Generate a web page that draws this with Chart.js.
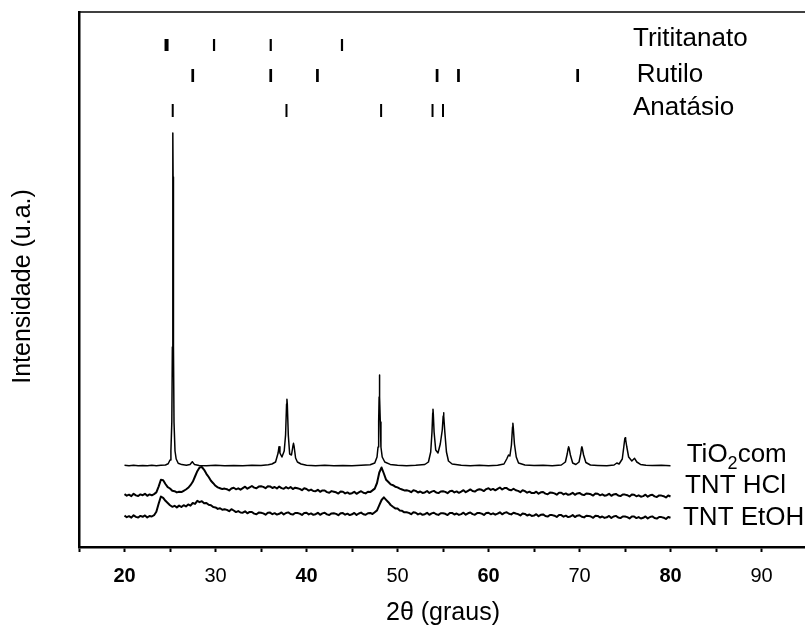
<!DOCTYPE html>
<html>
<head>
<meta charset="utf-8">
<script src="https://cdn.jsdelivr.net/npm/chart.js@4.4.1/dist/chart.umd.min.js"></script>
<style>
  html, body { margin: 0; padding: 0; background: #fff; overflow: hidden; }
  #wrap { width: 819px; height: 629px; }
</style>
</head>
<body>
<div id="wrap"><canvas id="difrat"></canvas></div>
<script>
// passo do difratometro (2theta)
const passoInicio = 20
const passo = 0.25

// TNT HCl, um valor a cada 0.25 grau, de 20 a 80
const tntHcl = [
  529, 513, 523, 509,  // 20
  532, 516, 510, 526,  // 21
  518, 532, 512, 526,  // 22
  517, 529, 546, 604,  // 23
  672, 668, 630, 598,  // 24
  585, 562, 558, 546,  // 25
  553, 549, 562, 575,  // 26
  592, 618, 652, 705,  // 27
  758, 795, 800, 772,  // 28
  732, 700, 662, 638,  // 29
  612, 596, 588, 579,  // 30
  584, 578, 565, 585,  // 31
  593, 577, 587, 573,  // 32
  589, 603, 583, 597,  // 33
  610, 594, 588, 604,  // 34
  607, 601, 588, 608,  // 35
  606, 590, 600, 586,  // 36
  605, 589, 583, 599,  // 37
  585, 599, 579, 593,  // 38
  587, 581, 568, 588,  // 39
  580, 564, 574, 560,  // 40
  558, 572, 552, 566,  // 41
  565, 549, 543, 559,  // 42
  553, 547, 534, 554,  // 43
  552, 536, 546, 532,  // 44
  538, 552, 532, 546,  // 45
  558, 542, 536, 552,  // 46
  549, 566, 584, 640,  // 47
  745, 795, 735, 672,  // 48
  650, 626, 618, 603,  // 49
  596, 584, 575, 566,  // 50
  567, 561, 548, 568,  // 51
  561, 545, 555, 541,  // 52
  546, 560, 540, 554,  // 53
  561, 545, 539, 555,  // 54
  557, 551, 538, 558,  // 55
  562, 546, 556, 542,  // 56
  554, 568, 548, 562,  // 57
  576, 560, 554, 570,  // 58
  578, 572, 559, 579,  // 59
  587, 571, 581, 567,  // 60
  581, 595, 575, 589,  // 61
  589, 573, 567, 583,  // 62
  567, 561, 548, 568,  // 63
  559, 543, 553, 539,  // 64
  539, 553, 533, 547,  // 65
  550, 534, 528, 544,  // 66
  542, 536, 523, 543,  // 67
  542, 526, 536, 522,  // 68
  528, 542, 522, 536,  // 69
  541, 525, 519, 535,  // 70
  533, 527, 514, 534,  // 71
  533, 517, 527, 513,  // 72
  518, 532, 512, 526,  // 73
  531, 515, 509, 525,  // 74
  524, 518, 505, 525,  // 75
  523, 507, 517, 503,  // 76
  509, 523, 503, 517,  // 77
  522, 506, 500, 516,  // 78
  514, 508, 495, 515,  // 79
  505                  // 80
]

// TNT EtOH, mesmo passo
const tntEtoh = [
  314, 298, 308, 294,  // 20
  317, 301, 295, 311,  // 21
  302, 316, 296, 310,  // 22
  305, 318, 352, 432,  // 23
  505, 492, 462, 440,  // 24
  418, 402, 412, 396,  // 25
  414, 400, 418, 406,  // 26
  426, 414, 440, 431,  // 27
  462, 448, 458, 438,  // 28
  440, 422, 418, 399,  // 29
  396, 381, 388, 372,  // 30
  377, 371, 358, 378,  // 31
  365, 349, 359, 345,  // 32
  343, 357, 337, 351,  // 33
  350, 334, 328, 344,  // 34
  342, 336, 323, 343,  // 35
  344, 328, 338, 324,  // 36
  332, 346, 326, 340,  // 37
  346, 330, 324, 340,  // 38
  340, 334, 321, 341,  // 39
  342, 326, 336, 322,  // 40
  328, 342, 322, 336,  // 41
  342, 326, 320, 336,  // 42
  337, 331, 318, 338,  // 43
  339, 323, 333, 319,  // 44
  327, 341, 321, 335,  // 45
  344, 328, 322, 338,  // 46
  341, 330, 348, 366,  // 47
  418, 470, 497, 472,  // 48
  448, 420, 402, 386,  // 49
  384, 364, 362, 347,  // 50
  347, 341, 328, 348,  // 51
  342, 326, 336, 322,  // 52
  328, 342, 322, 336,  // 53
  343, 327, 321, 337,  // 54
  338, 332, 319, 339,  // 55
  341, 325, 335, 321,  // 56
  329, 343, 323, 337,  // 57
  345, 329, 323, 339,  // 58
  340, 334, 321, 341,  // 59
  343, 327, 337, 323,  // 60
  333, 347, 327, 341,  // 61
  348, 332, 326, 342,  // 62
  335, 329, 316, 336,  // 63
  331, 315, 325, 311,  // 64
  314, 328, 308, 322,  // 65
  326, 310, 304, 320,  // 66
  319, 313, 300, 320,  // 67
  319, 303, 313, 299,  // 68
  305, 319, 299, 313,  // 69
  318, 302, 296, 312,  // 70
  311, 305, 292, 312,  // 71
  311, 295, 305, 291,  // 72
  297, 311, 291, 305,  // 73
  311, 295, 289, 305,  // 74
  305, 299, 286, 306,  // 75
  305, 289, 299, 285,  // 76
  292, 306, 286, 300,  // 77
  306, 290, 284, 300,  // 78
  299, 293, 280, 300,  // 79
  292                  // 80
]

// TiO2 comercial: [2theta, intensidade]
const tio2Com = [
  [20, 818], [20.5, 812], [21, 817], [21.5, 813], [22, 816], [22.5, 812], [23, 817], [23.5, 813],
  [24, 818], [24.5, 820], [24.8, 832], [25.0, 870], [25.1, 960], [25.2, 1250], [25.26, 2000],
  [25.3, 3700], [25.32, 4140], [25.34, 3700], [25.38, 2000], [25.44, 1250], [25.55, 960],
  [25.68, 880], [25.9, 838], [26.3, 824], [26.8, 818], [27.2, 825], [27.45, 853], [27.7, 824],
  [28.2, 816], [29, 813], [30, 817], [31, 812], [32, 816], [33, 813], [34, 817], [35, 814],
  [35.8, 822], [36.2, 830], [36.6, 850], [36.88, 940], [36.98, 1003], [37.08, 940], [37.3, 900],
  [37.55, 960], [37.7, 1120], [37.81, 1430], [37.85, 1477], [37.89, 1430], [38.0, 1120],
  [38.15, 930], [38.35, 920], [38.5, 1005], [38.57, 1037], [38.64, 1005], [38.8, 890],
  [39.0, 850], [39.4, 830], [40, 818], [41, 813], [42, 817], [43, 812], [44, 816], [45, 813],
  [46, 817], [47, 822], [47.5, 840], [47.75, 900], [47.86, 1000], [47.93, 1250], [47.98, 1500],
  [48.0, 1680], [48.02, 1720], [48.04, 1680], [48.06, 1500], [48.11, 1250], [48.18, 1000],
  [48.32, 900], [48.6, 850], [49.2, 826], [50, 818], [51, 813], [52, 817], [53, 825],
  [53.4, 850], [53.65, 950], [53.79, 1150], [53.87, 1340], [53.9, 1377], [53.93, 1340],
  [54.02, 1150], [54.2, 970], [54.45, 940], [54.7, 1030], [54.92, 1170], [55.02, 1310],
  [55.06, 1343], [55.1, 1310], [55.2, 1150], [55.38, 950], [55.6, 860], [56, 830], [57, 817],
  [58, 813], [59, 817], [60, 812], [61, 818], [61.7, 830], [62.0, 880], [62.2, 920], [62.35, 910],
  [62.52, 1020], [62.64, 1200], [62.68, 1237], [62.72, 1200], [62.85, 1030], [63.05, 900],
  [63.3, 840], [64, 820], [65, 814], [66, 817], [67, 813], [68, 820], [68.45, 850], [68.65, 930],
  [68.76, 990], [68.8, 1003], [68.85, 990], [69.0, 920], [69.25, 840], [69.6, 825], [69.95, 850],
  [70.14, 935], [70.22, 992], [70.26, 1003], [70.3, 990], [70.45, 920], [70.7, 845],
  [71.2, 820], [72, 816], [73, 813], [73.8, 820], [74.1, 840], [74.35, 830], [74.7, 880],
  [74.88, 1010], [74.98, 1085], [75.02, 1093], [75.07, 1075], [75.2, 1000], [75.4, 900],
  [75.75, 860], [76.05, 887], [76.3, 850], [76.7, 826], [77.3, 818], [78, 814], [79, 817], [80, 813]
]

// posicoes das fichas (2theta)
const trititanato = [24.52, 24.72, 29.84, 36.07, 43.9]
const rutilo = [27.5, 36.07, 41.2, 54.35, 56.7, 69.8]
const anatasio = [25.3, 37.8, 48.2, 53.85, 55.0]

const xTicks = [20, 30, 40, 50, 60, 70, 80, 90]

const fonte = "'Liberation Sans', Arial, sans-serif"
Chart.defaults.font.family = fonte
Chart.defaults.color = '#000'

const porPasso = (arr) => arr.map((v, i) => ({ x: passoInicio + i * passo, y: v }))
const pares = (arr) => arr.map(p => ({ x: p[0], y: p[1] }))
// cada ficha vira um traco vertical, separado por null
const tracos = (pos, lo, hi) => pos.flatMap(p => [{ x: p, y: lo }, { x: p, y: hi }, { x: p, y: null }])

const linha = (data, w) => ({
    data: data,
    borderColor: '#000',
    borderWidth: w,
    pointRadius: 0,
    tension: 0,
    borderCapStyle: 'butt',
    borderJoinStyle: 'round',
    spanGaps: false
})

// textos dentro do grafico
const rotulos = [
    { partes: [['Trititanato', 0]], x: 75.88, y: 5085 },
    { partes: [['Rutilo', 0]], x: 76.29, y: 4720 },
    { partes: [['Anatásio', 0]], x: 75.88, y: 4390 },
    { partes: [['TiO', 0], ['2', 1], ['com', 0]], x: 81.78, y: 925 },
    { partes: [['TNT HCl', 0]], x: 81.59, y: 615 },
    { partes: [['TNT EtOH', 0]], x: 81.37, y: 290 }
]

const anotacoes = {
    id: 'anotacoes',
    afterDatasetsDraw(chart) {
        const { ctx, chartArea, scales } = chart
        ctx.save()
        // linha de cima da caixa
        ctx.strokeStyle = '#000'
        ctx.lineWidth = 1.5
        ctx.beginPath()
        ctx.moveTo(chartArea.left, chartArea.top)
        ctx.lineTo(chartArea.right, chartArea.top)
        ctx.stroke()

        ctx.fillStyle = '#000'
        ctx.textBaseline = 'middle'
        ctx.textAlign = 'left'
        rotulos.forEach(r => {
            let px = scales.x.getPixelForValue(r.x)
            const py = scales.y.getPixelForValue(r.y)
            r.partes.forEach(([txt, sub]) => {
                ctx.font = (sub ? '18px ' : '26px ') + fonte
                ctx.fillText(txt, px, sub ? py + 10 : py)
                px += ctx.measureText(txt).width
            })
        })
        ctx.restore()
    }
}

const config = {
    type: 'line',
    data: {
        datasets: [
            linha(tracos(trititanato, 4960, 5080), 2.2),
            linha(tracos(rutilo, 4650, 4780), 2.7),
            linha(tracos(anatasio, 4300, 4430), 2),
            linha(pares(tio2Com), 1.5),
            linha(porPasso(tntHcl), 2),
            linha(porPasso(tntEtoh), 2)
        ]
    },
    options: {
        responsive: true,
        maintainAspectRatio: false,
        animation: false,
        events: [],
        layout: { padding: { top: 12, left: 0, right: 0, bottom: 0 } },
        plugins: { legend: { display: false }, tooltip: { enabled: false } },
        scales: {
            x: {
                type: 'linear',
                min: 15,
                max: 95,
                ticks: {
                    stepSize: 5,
                    autoSkip: false,
                    maxRotation: 0,
                    padding: 12,
                    color: '#000',
                    callback: (v) => xTicks.includes(v) ? String(v) : '',
                    font: (c) => ({ size: 20, weight: c.tick && c.tick.value % 20 === 0 ? 'bold' : 'normal' })
                },
                grid: { drawOnChartArea: false, drawTicks: true, tickLength: 5, tickWidth: 2, tickColor: '#000', color: '#000' },
                border: { display: true, color: '#000', width: 2.5 },
                title: { display: true, text: '2θ (graus)', color: '#000', font: { size: 25, lineHeight: 1 }, padding: { top: 1, bottom: 3 } }
            },
            y: {
                min: 0,
                max: 5350,
                ticks: { display: false },
                grid: { display: false, drawTicks: false },
                border: { display: true, color: '#000', width: 2.5 },
                title: { display: true, text: 'Intensidade (u.a.)  ', color: '#000', font: { size: 25 }, padding: { top: 8, bottom: 41 } }
            }
        }
    },
    plugins: [anotacoes]
}

new Chart(document.getElementById('difrat'), config)
</script>
</body>
</html>
